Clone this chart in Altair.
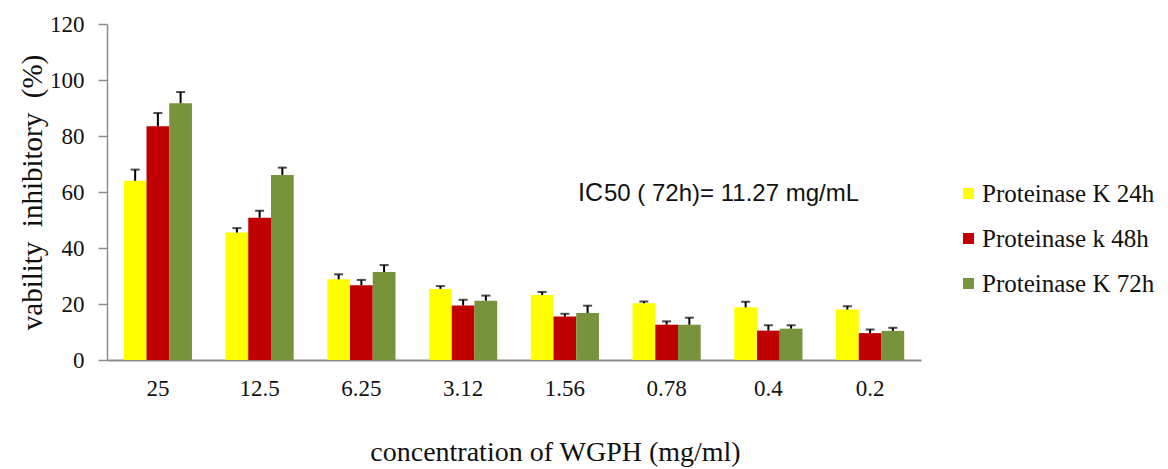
import altair as alt
import pandas as pd

concs = ["25", "12.5", "6.25", "3.12", "1.56", "0.78", "0.4", "0.2"]
series = ["Proteinase K 24h", "Proteinase k 48h", "Proteinase K 72h"]
colors = ["#FFFF00", "#C00000", "#77933C"]

k24 = [64.0, 45.5, 28.8, 25.4, 23.2, 20.3, 18.8, 18.0]
k24_err = [4.0, 1.6, 1.8, 1.0, 1.1, 0.6, 2.0, 1.2]
k48 = [83.5, 50.8, 26.7, 19.5, 15.5, 12.6, 10.5, 9.6]
k48_err = [4.7, 2.5, 1.9, 2.0, 1.0, 1.2, 1.9, 1.3]
k72 = [91.7, 66.1, 31.4, 21.2, 16.8, 12.6, 11.2, 10.4]
k72_err = [4.0, 2.6, 2.5, 1.8, 2.6, 2.5, 1.2, 1.1]

rows = []
for s, vals, errs in zip(series, [k24, k48, k72], [k24_err, k48_err, k72_err]):
    for c, v, e in zip(concs, vals, errs):
        rows.append({"conc": c, "series": s, "value": v, "upper": v + e})
df = pd.DataFrame(rows)

SERIF = "Liberation Serif"
SANS = "Liberation Sans"
NB = "\u00a0"

x_enc = alt.X(
    "conc:N",
    sort=concs,
    scale=alt.Scale(paddingInner=0.33, paddingOuter=0.165),
    axis=alt.Axis(
        title="concentration of WGPH (mg/ml)",
        labelAngle=0,
        ticks=False,
        tickSize=0,
        labelPadding=17,
        labelFont=SERIF,
        labelFontSize=23,
        labelColor="#111111",
        domainColor="#8c8c8c",
        domainWidth=2,
        titleFont=SERIF,
        titleFontSize=28,
        titleFontWeight="normal",
        titleColor="#111111",
        titleX=448,
        titleY=100,
        titleAlign="center",
        titleBaseline="alphabetic",
    ),
)
xo_enc = alt.XOffset("series:N", sort=series, scale=alt.Scale(paddingInner=0, paddingOuter=0))
y_scale = alt.Scale(domain=[0, 120])
y_axis = alt.Axis(
    title="vability" + NB + " inhibitory" + NB + " (%)",
    values=[0, 20, 40, 60, 80, 100, 120],
    grid=False,
    tickSize=9,
    tickColor="#8c8c8c",
    tickWidth=1.5,
    domainColor="#8c8c8c",
    domainWidth=1.5,
    labelFont=SERIF,
    labelFontSize=23,
    labelColor="#111111",
    labelPadding=14,
    titleFont=SERIF,
    titleFontSize=29,
    titleFontWeight="normal",
    titleColor="#111111",
    titleAngle=270,
    titleX=-66,
    titleY=168,
    titleAlign="center",
    titleBaseline="alphabetic",
    titleLimit=0,
)

bars = alt.Chart(df).mark_bar().encode(
    x=x_enc,
    xOffset=xo_enc,
    y=alt.Y("value:Q", scale=y_scale, axis=y_axis),
    color=alt.Color(
        "series:N",
        sort=series,
        scale=alt.Scale(domain=series, range=colors),
        legend=alt.Legend(
            title=None,
            orient="none",
            legendX=849,
            legendY=157,
            symbolType="square",
            symbolSize=121,
            symbolStrokeWidth=0,
            labelFont=SERIF,
            labelFontSize=25,
            labelColor="#111111",
            labelOffset=1,
            labelLimit=0,
            rowPadding=19,
            padding=0,
        ),
    ),
)

stems = alt.Chart(df).mark_rule(color="black", strokeWidth=2).encode(
    x=alt.X("conc:N", sort=concs),
    xOffset=alt.XOffset("series:N", sort=series),
    y=alt.Y("value:Q", scale=y_scale),
    y2="upper:Q",
)

caps = alt.Chart(df).mark_tick(color="black", thickness=2, size=9, orient="horizontal").encode(
    x=alt.X("conc:N", sort=concs),
    xOffset=alt.XOffset("series:N", sort=series),
    y=alt.Y("upper:Q", scale=y_scale),
)

ann_df = pd.DataFrame({"a": ["IC"], "b": ["50 ( 72h)= 11.27 mg/mL"]})
ann1 = alt.Chart(ann_df).mark_text(
    font=SANS, fontSize=25, align="left", baseline="alphabetic", color="#111111"
).encode(x=alt.value(471), y=alt.value(177), text="a:N")
ann2 = alt.Chart(ann_df).mark_text(
    font=SANS, fontSize=24, align="left", baseline="alphabetic", color="#111111"
).encode(x=alt.value(497), y=alt.value(177), text="b:N")

chart = (
    alt.layer(bars, stems, caps, ann1, ann2)
    .properties(
        width=814,
        height=336,
        autosize=alt.AutoSizeParams(type="none"),
        padding={"left": 99, "top": 16, "right": 239, "bottom": 109},
        background="white",
    )
    .configure(font=SERIF)
    .configure_view(stroke=None)
    .configure_legend(labelFont=SERIF, labelFontSize=25, labelLimit=0)
)

chart.save("out.html", embed_options={"renderer": "svg", "actions": False})
